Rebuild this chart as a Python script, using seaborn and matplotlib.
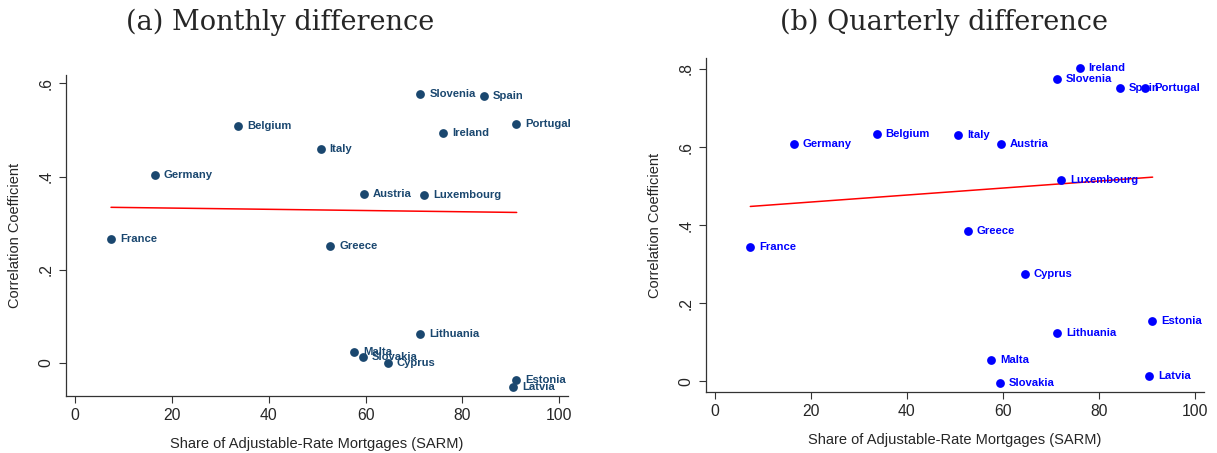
import matplotlib
matplotlib.use("Agg")
import matplotlib.pyplot as plt
import seaborn as sns
import pandas as pd

# Data
countries = ["Slovenia", "Spain", "Belgium", "Portugal", "Ireland", "Italy", "Germany",
             "Austria", "Luxembourg", "France", "Greece", "Lithuania", "Malta",
             "Slovakia", "Cyprus", "Estonia", "Latvia"]
sarm_monthly = [71.3, 84.4, 33.7, 91.1, 76.0, 50.7, 16.4,
                59.6, 72.1, 7.4, 52.7, 71.3, 57.6,
                59.4, 64.6, 91.1, 90.4]
sarm_quarterly = [71.3, 84.4, 33.7, 89.6, 76.0, 50.7, 16.4,
                  59.6, 72.1, 7.4, 52.7, 71.3, 57.6,
                  59.4, 64.6, 91.1, 90.4]
corr_monthly = [0.578, 0.573, 0.509, 0.512, 0.494, 0.459, 0.404,
                0.363, 0.361, 0.266, 0.250, 0.062, 0.024,
                0.013, 0.000, -0.037, -0.051]
corr_quarterly = [0.773, 0.752, 0.634, 0.752, 0.803, 0.631, 0.607,
                  0.609, 0.516, 0.345, 0.386, 0.124, 0.054,
                  -0.003, 0.274, 0.155, 0.014]

# fitted lines as drawn in the picture (end points)
fit_x = [7.4, 91.2]
fit_monthly = [0.334, 0.323]
fit_quarterly = [0.448, 0.523]

df_m = pd.DataFrame({"country": countries, "sarm": sarm_monthly, "corr": corr_monthly})
df_q = pd.DataFrame({"country": countries, "sarm": sarm_quarterly, "corr": corr_quarterly})
fit_m = pd.DataFrame({"sarm": fit_x, "corr": fit_monthly})
fit_q = pd.DataFrame({"sarm": fit_x, "corr": fit_quarterly})

sns.set_style("white")
plt.rcParams["font.family"] = ["Liberation Sans", "DejaVu Sans"]

fig = plt.figure(figsize=(12.17, 4.53), dpi=100)
W, H = 1217, 453

panels = [
    dict(df=df_m, fit=fit_m, color="#1a476f", title="(a) Monthly difference",
         box=(66, 75, 568, 396), xlim=(-1.9, 101.8), ylim=(-0.071, 0.618),
         yticks=[0, 0.2, 0.4, 0.6], ylabels=["0", ".2", ".4", ".6"], tx=280),
    dict(df=df_q, fit=fit_q, color="#0000ff", title="(b) Quarterly difference",
         box=(706, 58, 1204, 392), xlim=(-1.83, 101.9), ylim=(-0.027, 0.828),
         yticks=[0, 0.2, 0.4, 0.6, 0.8], ylabels=["0", ".2", ".4", ".6", ".8"], tx=944),
]

for p in panels:
    x0, y0, x1, y1 = p["box"]
    d = p["df"]
    ax = fig.add_axes([x0 / W, 1 - y1 / H, (x1 - x0) / W, (y1 - y0) / H])
    sns.scatterplot(data=d, x="sarm", y="corr", color=p["color"], s=40,
                    edgecolor=p["color"], linewidth=0, ax=ax, zorder=3)
    sns.lineplot(data=p["fit"], x="sarm", y="corr", color="red", linewidth=1.1,
                 ax=ax, zorder=2)
    for name, xv, yv in zip(d["country"], d["sarm"], d["corr"]):
        ax.annotate(name, (xv, yv), xytext=(6.5, 0), textcoords="offset points",
                    va="center", ha="left", fontsize=8.1, fontweight="bold",
                    color=p["color"], zorder=4, annotation_clip=False,
                    family=["Liberation Sans Narrow", "Liberation Sans"])
    ax.set_xlim(*p["xlim"])
    ax.set_ylim(*p["ylim"])
    ax.set_xticks([0, 20, 40, 60, 80, 100])
    ax.set_yticks(p["yticks"])
    ax.set_yticklabels(p["ylabels"], rotation=90, va="center")
    ax.tick_params(axis="both", which="both", direction="out", length=5,
                   width=0.8, color="#333333", labelsize=11.3, pad=4,
                   left=True, bottom=True)
    for side in ["top", "right"]:
        ax.spines[side].set_visible(False)
    for side in ["left", "bottom"]:
        ax.spines[side].set_color("#333333")
        ax.spines[side].set_linewidth(0.9)
    ax.set_xlabel("Share of Adjustable-Rate Mortgages (SARM)", fontsize=10.5, labelpad=10)
    ax.set_ylabel("Correlation Coefficient", fontsize=10.5, labelpad=12)
    fig.text(p["tx"] / W, 1 - 22 / H, p["title"], ha="center", va="center",
             fontsize=19.5, family=["DejaVu Serif"])

fig.savefig("out.png", dpi=100)
